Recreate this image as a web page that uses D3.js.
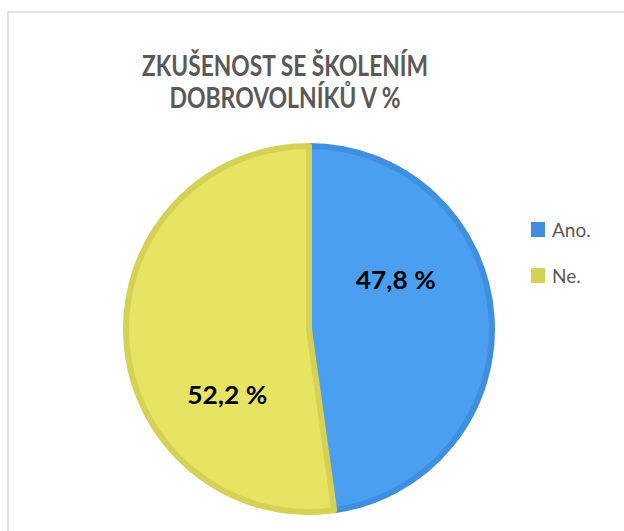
<!DOCTYPE html>
<html>
<head>
<meta charset="utf-8">
<script src="https://cdn.jsdelivr.net/npm/d3@7"></script>
<style>
  body { margin: 0; background: #fff; }
  text { font-family: Lato, "Open Sans", sans-serif; }
</style>
</head>
<body>
<div id="chart"></div>
<script>
// chart values
var categories = ["Ano.", "Ne."];
var values = [47.8, 52.2];
var labels = ["47,8 %", "52,2 %"];
var titleLines = ["ZKUŠENOST SE ŠKOLENÍM", "DOBROVOLNÍKŮ V %"];

var fillColors = ["#4a9ff0", "#e8e463"];
var edgeColors = ["#3f8fde", "#d5d154"];

var width = 624, height = 531;
var cx = 309, cy = 329, radius = 186;

var svg = d3.select("#chart").append("svg")
    .attr("width", width)
    .attr("height", height);

// chart area frame
svg.append("rect")
    .attr("x", 8).attr("y", 12)
    .attr("width", 640).attr("height", 540)
    .attr("fill", "#fff")
    .attr("stroke", "#d9d9d9")
    .attr("stroke-width", 1.5);

// title
var titleWidths = [286, 231];
svg.selectAll(".title")
    .data(titleLines)
    .enter()
    .append("text")
    .attr("class", "title")
    .attr("x", 285)
    .attr("y", function(d, i) { return 76 + i * 32; })
    .attr("text-anchor", "middle")
    .attr("textLength", function(d, i) { return titleWidths[i]; })
    .attr("lengthAdjust", "spacingAndGlyphs")
    .style("font-size", "29px")
    .style("font-weight", "bold")
    .style("fill", "#595959")
    .text(function(d) { return d; });

var pie = d3.pie().sort(null).value(function(d) { return d; });
var arcs = pie(values);

var arc = d3.arc().innerRadius(0).outerRadius(radius - 3);
var labelArc = d3.arc().innerRadius(100).outerRadius(100);

var g = svg.append("g").attr("transform", "translate(" + cx + "," + cy + ")");

g.selectAll(".slice")
    .data(arcs)
    .enter()
    .append("path")
    .attr("class", "slice")
    .attr("d", arc)
    .attr("fill", function(d, i) { return fillColors[i]; })
    .attr("stroke", function(d, i) { return edgeColors[i]; })
    .attr("stroke-width", 6)
    .attr("stroke-linejoin", "round");

// Excel places the labels a bit off the centroid
var labelNudge = [[-13, -33], [18, 68]];
g.selectAll(".lbl")
    .data(arcs)
    .enter()
    .append("text")
    .attr("class", "lbl")
    .attr("x", function(d, i) { return labelArc.centroid(d)[0] + labelNudge[i][0]; })
    .attr("y", function(d, i) { return labelArc.centroid(d)[1] + labelNudge[i][1]; })
    .attr("text-anchor", "middle")
    .attr("textLength", 80)
    .attr("lengthAdjust", "spacingAndGlyphs")
    .style("font-size", "24px")
    .style("font-weight", "bold")
    .style("fill", "#000")
    .text(function(d, i) { return labels[i]; });

// legend
var legend = svg.selectAll(".legend")
    .data(categories)
    .enter()
    .append("g")
    .attr("class", "legend")
    .attr("transform", function(d, i) { return "translate(531," + (222 + i * 46) + ")"; });

legend.append("rect")
    .attr("width", 14).attr("height", 15)
    .attr("fill", function(d, i) { return edgeColors[i]; });

legend.append("text")
    .attr("x", 21)
    .attr("y", 15)
    .style("font-size", "19px")
    .style("fill", "#595959")
    .text(function(d) { return d; });
</script>
</body>
</html>
